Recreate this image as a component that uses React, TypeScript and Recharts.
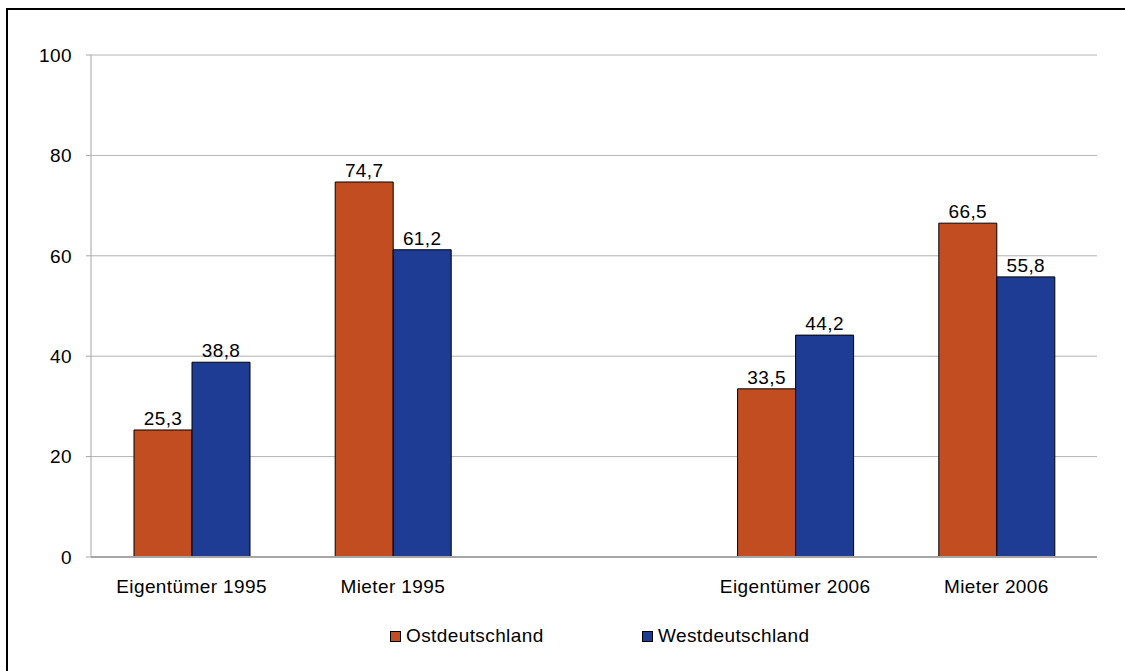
import React from 'react';
import { BarChart, Bar, XAxis, YAxis, CartesianGrid, Legend, LabelList } from 'recharts';

const categories = ['Eigentümer 1995', 'Mieter 1995', '', 'Eigentümer 2006', 'Mieter 2006'];
const ostValues: (number | null)[] = [25.3, 74.7, null, 33.5, 66.5];
const westValues: (number | null)[] = [38.8, 61.2, null, 44.2, 55.8];
const seriesNames = ['Ostdeutschland', 'Westdeutschland'];
const seriesColors = ['#C24D20', '#1F3C94'];
const yTicks = [0, 20, 40, 60, 80, 100];

const data = categories.map((c, i) => ({ name: c, ost: ostValues[i], west: westValues[i] }));

const FONT = '"Liberation Sans", Arial, sans-serif';
const FS = 19;
const LS = '0.4px';

const fmt = (v: any) => (v == null || v === '' ? '' : String(v).replace('.', ','));

const LegendContent = () => (
  <div style={{ position: 'relative', height: 28, width: 1125, fontFamily: FONT, fontSize: FS, letterSpacing: LS, color: '#000' }}>
    {seriesNames.map((n, i) => (
      <div
        key={n}
        style={{
          position: 'absolute',
          left: i === 0 ? 390 : 642,
          top: 0,
          display: 'flex',
          alignItems: 'center',
          height: 28,
          whiteSpace: 'nowrap',
        }}
      >
        <span
          style={{
            display: 'inline-block',
            width: 9,
            height: 9,
            background: seriesColors[i],
            border: '1px solid #000',
            marginRight: 5,
          }}
        />
        <span>{n}</span>
      </div>
    ))}
  </div>
);

const tickStyle = { fontSize: FS, fill: '#000', fontFamily: FONT, letterSpacing: LS };

export default function App() {
  return (
    <div
      style={{
        position: 'absolute',
        left: 0,
        top: 0,
        width: 1125,
        height: 671,
        overflow: 'hidden',
        background: '#fff',
        fontFamily: FONT,
      }}
    >
      <div
        style={{
          position: 'absolute',
          left: 6,
          top: 8,
          width: 1200,
          height: 720,
          border: '2px solid #000',
          boxSizing: 'border-box',
        }}
      />
      <div style={{ position: 'absolute', left: 0, top: 0 }}>
        <BarChart
          width={1125}
          height={671}
          data={data}
          margin={{ top: 55, right: 28, left: 31, bottom: 74 }}
          barSize={58}
          barGap={0}
        >
          <CartesianGrid horizontal={true} vertical={false} stroke="#b3b3b3" strokeWidth={1} />
          <XAxis
            dataKey="name"
            height={40}
            axisLine={{ stroke: '#a6a6a6', strokeWidth: 2 }}
            tickLine={false}
            tickSize={0}
            tickMargin={23}
            interval={0}
            tick={tickStyle}
          />
          <YAxis
            width={60}
            domain={[0, 100]}
            ticks={yTicks}
            axisLine={{ stroke: '#a6a6a6', strokeWidth: 1 }}
            tickLine={{ stroke: '#a6a6a6' }}
            tickSize={5}
            tickMargin={14}
            tick={tickStyle}
          />
          <Legend
            layout="horizontal"
            verticalAlign="middle"
            align="center"
            wrapperStyle={{ top: 622, left: 0, width: 1125 }}
            content={LegendContent}
          />
          <Bar dataKey="ost" name={seriesNames[0]} fill={seriesColors[0]} stroke="#000" strokeWidth={1} isAnimationActive={false}>
            <LabelList dataKey="ost" position="top" offset={5} formatter={fmt} style={tickStyle} />
          </Bar>
          <Bar dataKey="west" name={seriesNames[1]} fill={seriesColors[1]} stroke="#000" strokeWidth={1} isAnimationActive={false}>
            <LabelList dataKey="west" position="top" offset={5} formatter={fmt} style={tickStyle} />
          </Bar>
        </BarChart>
      </div>
    </div>
  );
}
